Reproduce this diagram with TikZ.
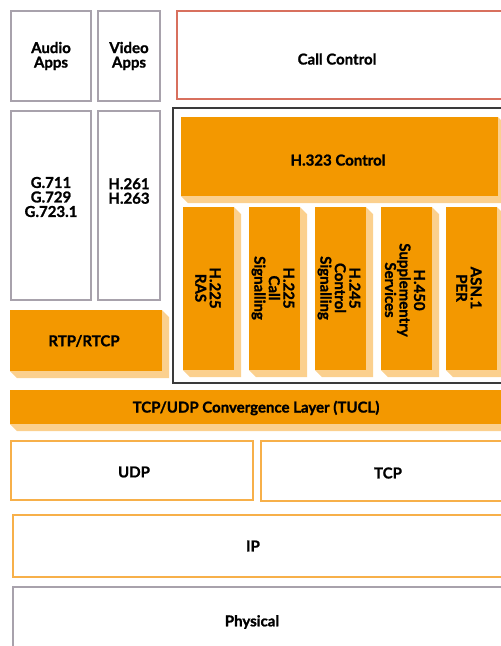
\documentclass[tikz,border=0pt]{standalone}
\usepackage{fontspec}
\setmainfont{Lato}[BoldFeatures={FakeBold=1.2}]
\definecolor{org}{HTML}{F39800}
\definecolor{shd}{HTML}{FBD08E}
\definecolor{gbd}{HTML}{A8A2AC}
\definecolor{rbd}{HTML}{D8705E}
\definecolor{obd}{HTML}{F7B04A}
\definecolor{kbd}{HTML}{3A3A3A}
\newcommand\orbox[4]{%
  \fill[shd] (#3,#2) -- (#3+7,#2+7) -- (#3+7,#4+7) -- (#1+7,#4+7) -- (#1,#4) -- cycle;
  \fill[org] (#1,#2) rectangle (#3,#4);}
\begin{document}
\begin{tikzpicture}[x=1pt,y=-1pt,
  lbl/.style={font=\fontsize{15}{14.5}\selectfont\bfseries, align=center, inner sep=0pt},
  vlbl/.style={lbl, rotate=-90},
  gbox/.style={draw=gbd, line width=1.6pt},
  rbox/.style={draw=rbd, line width=1.6pt},
  obox/.style={draw=obd, line width=1.4pt},
  kbox/.style={draw=kbd, line width=1.8pt}]
\useasboundingbox (0,0) rectangle (501,646);
\clip (0,0) rectangle (501,646);
% application boxes
\path[gbox] (11,11) rectangle (91,101);
\path[gbox] (98,11) rectangle (160,101);
\path[rbox] (177,11) rectangle (520,99);
\path[gbox] (11,111) rectangle (91,300);
\path[gbox] (98,111) rectangle (160,300);
\path[kbox] (173,108) rectangle (520,383);
% orange blocks
\orbox{181}{117}{498}{196}
\orbox{183}{207}{234}{370}
\orbox{249}{207}{300}{370}
\orbox{315}{207}{366}{370}
\orbox{381}{207}{432}{370}
\orbox{446}{207}{497}{370}
\orbox{10}{310}{162}{371}
\orbox{10}{390}{502}{424}
% transport boxes
\path[obox] (11,441) rectangle (253,500);
\path[obox] (261,441) rectangle (520,501);
\path[obox] (13,515) rectangle (520,577);
\path[gbox] (13,587) rectangle (520,660);
% labels
\node[lbl] (audio) at (51,56) {Audio\\Apps};
\node[lbl] (video) at (129,56) {Video\\Apps};
\node[lbl] (call) at (337,59) {Call Control};
\node[lbl] (gcodec) at (51,197) {G.711\\G.729\\G.723.1};
\node[lbl] (hcodec) at (129,191) {H.261\\H.263};
\node[lbl] (h323) at (338,160) {H.323 Control};
\node[vlbl] (ras) at (208,288) {H.225\\RAS};
\node[vlbl] (callsig) at (273,288) {H.225\\Call\\Signalling};
\node[vlbl] (ctlsig) at (339,288) {H.245\\Control\\Signalling};
\node[vlbl] (h450) at (405,290) {H.450\\Supplementry\\Services};
\node[vlbl] (asn) at (469,288) {ASN.1\\PER};
\node[lbl] (rtp) at (84,341) {RTP/RTCP};
\node[lbl] (tucl) at (256,408) {TCP/UDP Convergence Layer (TUCL)};
\node[lbl] (udp) at (134,472) {UDP};
\node[lbl] (tcp) at (388,473) {TCP};
\node[lbl] (ip) at (253,546) {IP};
\node[lbl] (phy) at (252,622) {Physical};
\end{tikzpicture}
\end{document}
